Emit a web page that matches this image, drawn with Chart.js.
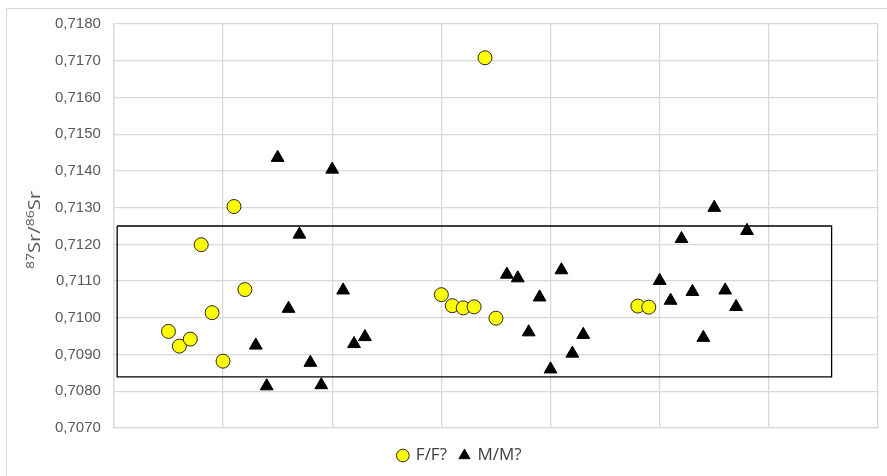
<!DOCTYPE html>
<html>
<head>
<meta charset="utf-8">
<script src="https://cdn.jsdelivr.net/npm/chart.js@4/dist/chart.umd.min.js"></script>
<style>
  body { margin: 0; background: #ffffff; }
  #wrap { position: relative; width: 887px; height: 476px; overflow: hidden; }
  #frame { position: absolute; left: 6px; top: 8px; width: 1000px; height: 1000px; border: 1px solid #d9d9d9; }
  #chart { position: absolute; left: 0; top: 0; }
</style>
</head>
<body>
<div id="wrap">
  <div id="frame"></div>
  <canvas id="chart" width="887" height="476"></canvas>
</div>
<script>
// F/F? samples (sample index, 87Sr/86Sr)
const ffX = [5, 6, 7, 8, 9, 10, 11, 12, 30, 31, 32, 33, 34, 35, 48, 49];
const ffY = [0.70963, 0.70923, 0.70942, 0.71199, 0.71014, 0.70882, 0.71303, 0.71077,
             0.71063, 0.71033, 0.71027, 0.71030, 0.71708, 0.70999, 0.71032, 0.71029];

// M/M? samples
const mmX = [13, 14, 15, 16, 17, 18, 19, 20, 21, 22, 23,
             36, 37, 38, 39, 40, 41, 42, 43,
             50, 51, 52, 53, 54, 55, 56, 57, 58];
const mmY = [0.70925, 0.70814, 0.71436, 0.71025, 0.71227, 0.70878, 0.70817, 0.71404, 0.71075, 0.70929, 0.70948,
             0.71118, 0.71108, 0.70961, 0.71056, 0.70860, 0.71130, 0.70903, 0.70954,
             0.71101, 0.71047, 0.71215, 0.71071, 0.70946, 0.71300, 0.71075, 0.71030, 0.71237];

// local range box
const boxX = [0.3, 65.75, 65.75, 0.3, 0.3];
const boxY = [0.71250, 0.71250, 0.70839, 0.70839, 0.71250];

const yTicks = [0.707, 0.718, 0.001];

function toPoints(xs, ys) {
    return xs.map((x, i) => ({ x: x, y: ys[i] }));
}

// rotated axis title with real superscripts
const yTitlePlugin = {
    id: 'yTitle',
    afterDraw(chart) {
        const ctx = chart.ctx;
        const big = "16px 'Open Sans', sans-serif";
        const small = "11px 'Open Sans', sans-serif";
        const parts = [['87', true], ['Sr/', false], ['86', true], ['Sr', false]];
        let total = 0;
        const widths = parts.map(p => {
            ctx.font = p[1] ? small : big;
            const w = ctx.measureText(p[0]).width;
            total += w;
            return w;
        });
        ctx.save();
        ctx.translate(40, 230);
        ctx.rotate(-Math.PI / 2);
        ctx.scale(78 / total, 1);
        ctx.fillStyle = '#595959';
        ctx.textBaseline = 'alphabetic';
        ctx.textAlign = 'left';
        let x = -total / 2;
        parts.forEach((p, i) => {
            ctx.font = p[1] ? small : big;
            ctx.fillText(p[0], x, p[1] ? -6 : 0);
            x += widths[i];
        });
        ctx.restore();
    }
};

new Chart(document.getElementById('chart'), {
    type: 'scatter',
    data: {
        datasets: [
            {
                label: 'F/F?',
                data: toPoints(ffX, ffY),
                pointStyle: 'circle',
                pointRadius: 7,
                pointHoverRadius: 7,
                backgroundColor: '#ffff00',
                borderColor: '#262626',
                borderWidth: 1,
                order: 1
            },
            {
                label: 'M/M?',
                data: toPoints(mmX, mmY),
                pointStyle: 'triangle',
                pointRadius: 7.4,
                pointHoverRadius: 7.4,
                backgroundColor: '#000000',
                borderColor: '#000000',
                borderWidth: 1,
                order: 2
            },
            {
                label: 'box',
                type: 'line',
                data: toPoints(boxX, boxY),
                borderColor: '#000000',
                borderWidth: 1.3,
                pointRadius: 0,
                fill: false,
                tension: 0,
                order: 10
            }
        ]
    },
    options: {
        responsive: false,
        animation: false,
        events: [],
        layout: {
            padding: { left: 42, right: 9, top: 24, bottom: 2 }
        },
        plugins: {
            legend: {
                display: true,
                position: 'bottom',
                labels: {
                    filter: item => item.text !== 'box',
                    usePointStyle: true,
                    boxWidth: 9,
                    boxHeight: 9,
                    padding: 13,
                    color: '#404040',
                    font: { family: "'Open Sans', sans-serif", size: 17 }
                }
            },
            tooltip: { enabled: false }
        },
        scales: {
            x: {
                type: 'linear',
                min: 0,
                max: 70,
                ticks: { display: false, stepSize: 10 },
                grid: {
                    color: '#d9d9d9',
                    lineWidth: 1.3,
                    drawTicks: true,
                    tickLength: 6,
                    tickColor: 'rgba(0,0,0,0)'
                },
                border: { color: '#d9d9d9', width: 1.3 }
            },
            y: {
                min: yTicks[0],
                max: yTicks[1],
                ticks: {
                    stepSize: yTicks[2],
                    padding: 13,
                    color: '#595959',
                    font: { family: "'Liberation Sans', Arial, sans-serif", size: 15 },
                    callback: v => v.toFixed(4).replace('.', ',')
                },
                grid: { color: '#d9d9d9', lineWidth: 1.3, drawTicks: false },
                border: { color: '#d9d9d9', width: 1.3 }
            }
        }
    },
    plugins: [yTitlePlugin]
});
</script>
</body>
</html>
